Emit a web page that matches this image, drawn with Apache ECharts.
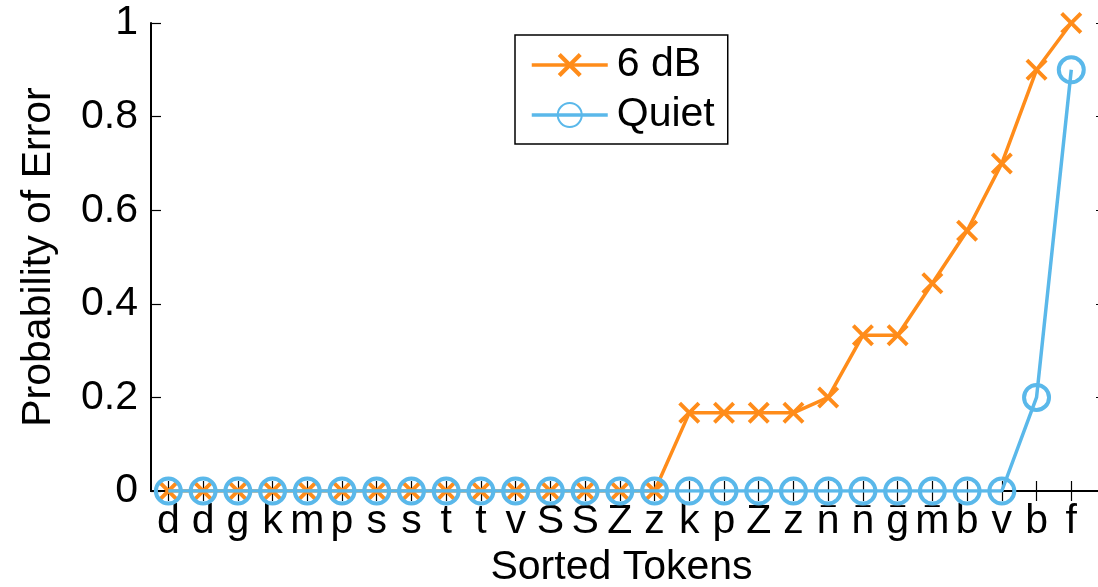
<!DOCTYPE html>
<html>
<head>
<meta charset="utf-8">
<script src="https://cdn.jsdelivr.net/npm/echarts@6/dist/echarts.min.js"></script>
<style>
html,body{margin:0;padding:0;background:#fff;}
#chart{width:1098px;height:587px;}
</style>
</head>
<body>
<div id="chart"></div>
<script>
// Data
var tokens = ['d','d','g','k','m','p','s','s','t','t','v','S','S','Z','z','k','p','Z','z','n','n','g','m','b','v','b','f'];
var overlined = [0,0,0,0,0,0,0,0,0,0,0,0,0,0,0,0,0,0,0,1,1,1,1,0,0,0,0];
var sixDB = [0,0,0,0,0,0,0,0,0,0,0,0,0,0,0,0.167,0.167,0.167,0.167,0.2,0.333,0.333,0.444,0.556,0.7,0.9,1.0];
var quiet = [0,0,0,0,0,0,0,0,0,0,0,0,0,0,0,0,0,0,0,0,0,0,0,0,0,0.2,0.9];
var yTicks = [0,0.2,0.4,0.6,0.8,1];

var ORANGE = '#FF8C1A';
var BLUE = '#5AB8EA';
var FONT = 'Liberation Sans, Arial, Helvetica, sans-serif';
var FS = 41;

var positions = tokens.map(function(_, i){ return i + 1; });
function pairs(arr){ return arr.map(function(v, i){ return [i + 1, v]; }); }

var xPath = 'path://M0,2.5L2.5,0L10,7.5L17.5,0L20,2.5L12.5,10L20,17.5L17.5,20L10,12.5L2.5,20L0,17.5L7.5,10Z';

var chart = echarts.init(document.getElementById('chart'), null, {renderer:'canvas'});
chart.setOption({
  animation: false,
  backgroundColor: '#fff',
  textStyle: {fontFamily: FONT},
  grid: {left: 151, top: 23, width: 955, height: 468, containLabel: false, outerBoundsMode: 'none'},
  legend: {
    orient: 'vertical',
    left: 515, top: 35,
    padding: [8, 13, 7, 15],
    itemWidth: 76, itemHeight: 30, itemGap: 6,
    borderColor: '#000', borderWidth: 1.5, borderRadius: 0,
    backgroundColor: '#fff',
    lineStyle: {width: 3.5},
    textStyle: {fontSize: FS, lineHeight: 44, color: '#000', fontFamily: FONT, padding: [0,0,0,4]},
    data: ['6 dB', 'Quiet']
  },
  xAxis: [{
    type: 'value', min: 0.5, max: 28, position: 'bottom',
    name: 'Sorted Tokens', nameLocation: 'middle', nameGap: 52,
    nameTextStyle: {fontSize: FS, color: '#000', fontFamily: FONT, padding: [0, 14, 0, 0]},
    axisLine: {show: true, onZero: false, lineStyle: {color: '#000', width: 2}},
    axisTick: {show: true, inside: true, length: 10, customValues: positions, lineStyle: {color: '#000', width: 1.2}},
    axisLabel: {show: true, customValues: positions, margin: 10, color: '#000', fontFamily: FONT,
      formatter: function(v){
        var i = Math.round(v) - 1;
        var t = tokens[i] || '';
        return (overlined[i] ? '{o|\u2013}' : '{o| }') + '\n{t|' + t + '}';
      },
      rich: {
        o: {fontSize: 27, lineHeight: 10, color: '#000', fontFamily: FONT},
        t: {fontSize: FS, lineHeight: 22, color: '#000', fontFamily: FONT}
      }},
    splitLine: {show: false}
  }, {
    type: 'value', min: 0.5, max: 28, position: 'top',
    axisLine: {show: true, lineStyle: {color: '#000', width: 2}},
    axisTick: {show: true, inside: true, length: 10, customValues: positions, lineStyle: {color: '#000', width: 1.2}},
    axisLabel: {show: false},
    splitLine: {show: false}
  }],
  yAxis: [{
    type: 'value', min: 0, max: 1, interval: 0.2, position: 'left',
    name: 'Probability of Error', nameLocation: 'middle', nameGap: 92,
    nameTextStyle: {fontSize: FS, color: '#000', fontFamily: FONT},
    axisLine: {show: true, lineStyle: {color: '#000', width: 2}},
    axisTick: {show: true, inside: true, length: 10, lineStyle: {color: '#000', width: 1.2}},
    axisLabel: {fontSize: FS, color: '#000', margin: 13, fontFamily: FONT,
      formatter: function(v){ return String(+v.toFixed(1)); }},
    splitLine: {show: false}
  }, {
    type: 'value', min: 0, max: 1, interval: 0.2, position: 'right',
    axisLine: {show: true, lineStyle: {color: '#000', width: 2}},
    axisTick: {show: true, inside: true, length: 10, lineStyle: {color: '#000', width: 1.2}},
    axisLabel: {show: false},
    splitLine: {show: false}
  }],
  series: [{
    name: '6 dB', type: 'line', xAxisIndex: 0, yAxisIndex: 0,
    data: pairs(sixDB),
    symbol: xPath, symbolSize: 22,
    lineStyle: {color: ORANGE, width: 3.5},
    itemStyle: {color: ORANGE},
    z: 2
  }, {
    name: 'Quiet', type: 'line', xAxisIndex: 0, yAxisIndex: 0,
    data: pairs(quiet),
    symbol: 'circle', symbolSize: 25,
    lineStyle: {color: BLUE, width: 3.5},
    itemStyle: {color: 'rgba(255,255,255,0)', borderColor: BLUE, borderWidth: 4},
    z: 3
  }]
});
</script>
</body>
</html>
